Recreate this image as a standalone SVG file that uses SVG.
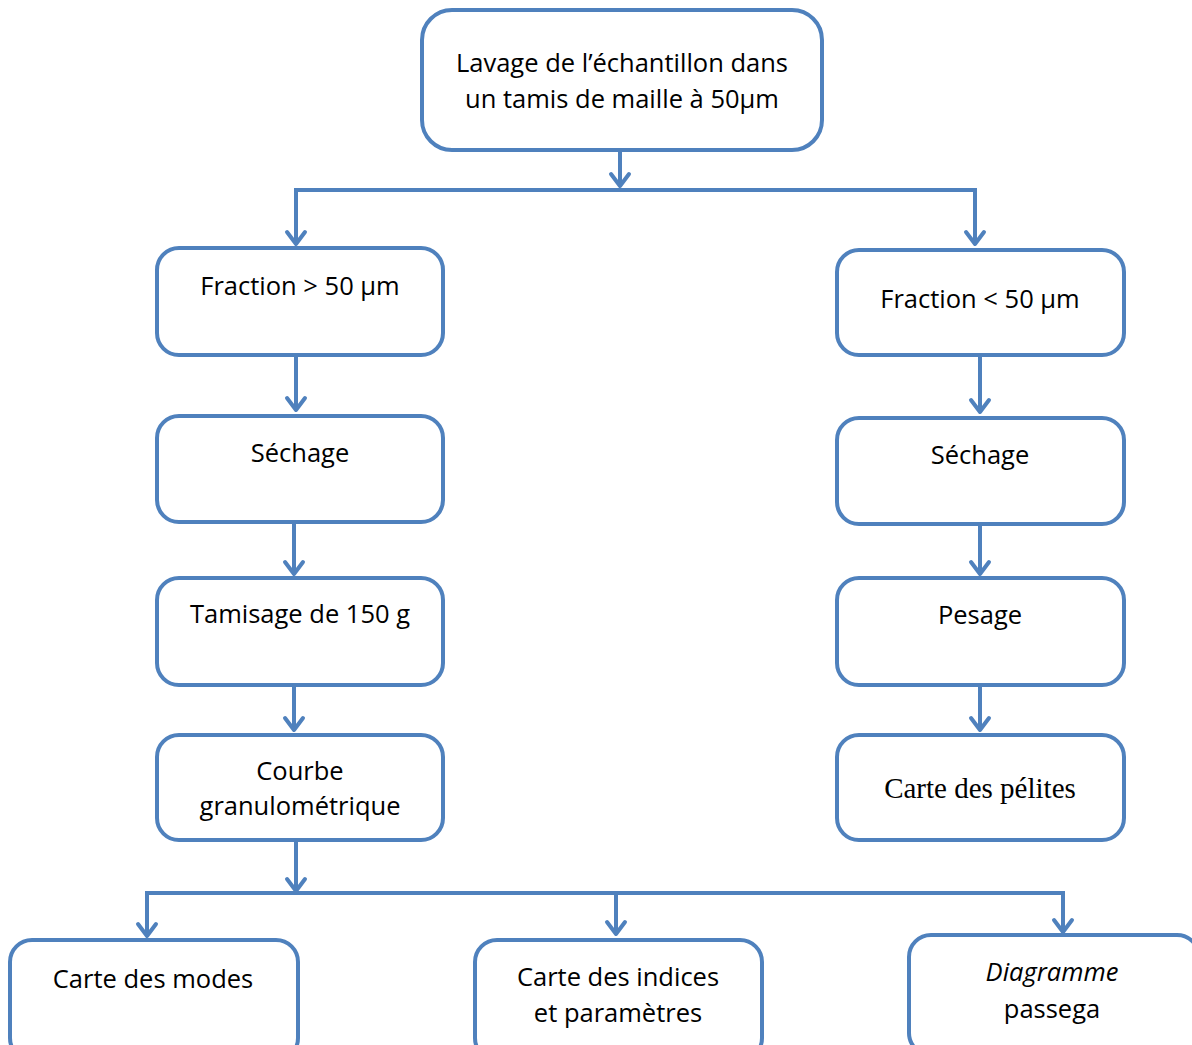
<svg xmlns="http://www.w3.org/2000/svg" width="1192" height="1045" viewBox="0 0 1192 1045">
<style>
.box{fill:#fff;stroke:#4F81BD;stroke-width:4}
.ln{fill:none;stroke:#4F81BD;stroke-width:4;stroke-linejoin:miter}
.ah{fill:none;stroke:#4F81BD;stroke-width:4;stroke-linecap:round;stroke-linejoin:round}
text{font-family:"Open Sans","Liberation Sans",sans-serif;font-size:25.5px;fill:#000;text-anchor:middle}
.serif{font-family:"Liberation Serif","Times New Roman",serif;font-size:29px}
.it{font-style:italic}
</style>
<g id="connectors">
<path class="ln" d="M620,150 V186"/><path class="ah" d="M611,174 L620,186 L629,174"/>
<path class="ln" d="M296,244 V190 H975 V244"/>
<path class="ah" d="M287,232 L296,244 L305,232"/><path class="ah" d="M966,232 L975,244 L984,232"/>
<path class="ln" d="M296,355 V410"/><path class="ah" d="M287,398 L296,410 L305,398"/>
<path class="ln" d="M294,522 V574"/><path class="ah" d="M285,562 L294,574 L303,562"/>
<path class="ln" d="M294,685 V730"/><path class="ah" d="M285,718 L294,730 L303,718"/>
<path class="ln" d="M980,355 V412"/><path class="ah" d="M971,400 L980,412 L989,400"/>
<path class="ln" d="M980,524 V574"/><path class="ah" d="M971,562 L980,574 L989,562"/>
<path class="ln" d="M980,685 V730"/><path class="ah" d="M971,718 L980,730 L989,718"/>
<path class="ln" d="M296,840 V891"/><path class="ah" d="M287,879 L296,891 L305,879"/>
<path class="ln" d="M147,936 V893 H1063 V932"/>
<path class="ah" d="M138,924 L147,936 L156,924"/>
<path class="ln" d="M616,893 V934"/><path class="ah" d="M607,922 L616,934 L625,922"/>
<path class="ah" d="M1054,920 L1063,932 L1072,920"/>
</g>
<g id="n_lavage"><rect class="box" x="422" y="10" width="400" height="140" rx="30"/>
<text x="622" y="72">Lavage de l’échantillon dans</text><text x="622" y="108">un tamis de maille à 50µm</text></g>
<g id="n_frac_sup"><rect class="box" x="157" y="248" width="286" height="107" rx="22"/><text x="300" y="295">Fraction &gt; 50 µm</text></g>
<g id="n_sechage1"><rect class="box" x="157" y="416" width="286" height="106" rx="22"/><text x="300" y="462">Séchage</text></g>
<g id="n_tamisage"><rect class="box" x="157" y="578" width="286" height="107" rx="22"/><text x="300" y="623">Tamisage de 150 g</text></g>
<g id="n_courbe"><rect class="box" x="157" y="735" width="286" height="105" rx="22"/><text x="300" y="780">Courbe</text><text x="300" y="815">granulométrique</text></g>
<g id="n_frac_inf"><rect class="box" x="837" y="250" width="287" height="105" rx="22"/><text x="980" y="308">Fraction &lt; 50 µm</text></g>
<g id="n_sechage2"><rect class="box" x="837" y="418" width="287" height="106" rx="22"/><text x="980" y="464">Séchage</text></g>
<g id="n_pesage"><rect class="box" x="837" y="578" width="287" height="107" rx="22"/><text x="980" y="624">Pesage</text></g>
<g id="n_pelites"><rect class="box" x="837" y="735" width="287" height="105" rx="22"/><text class="serif" x="980" y="798">Carte des pélites</text></g>
<g id="n_modes"><rect class="box" x="10" y="940" width="288" height="120" rx="22"/><text x="153" y="988">Carte des modes</text></g>
<g id="n_indices"><rect class="box" x="475" y="940" width="287" height="120" rx="22"/><text x="618" y="986">Carte des indices</text><text x="618" y="1022">et  paramètres</text></g>
<g id="n_passega"><rect class="box" x="909" y="935" width="290" height="120" rx="22"/><text class="it" x="1052" y="981">Diagramme</text><text x="1052" y="1018">passega</text></g>
</svg>
